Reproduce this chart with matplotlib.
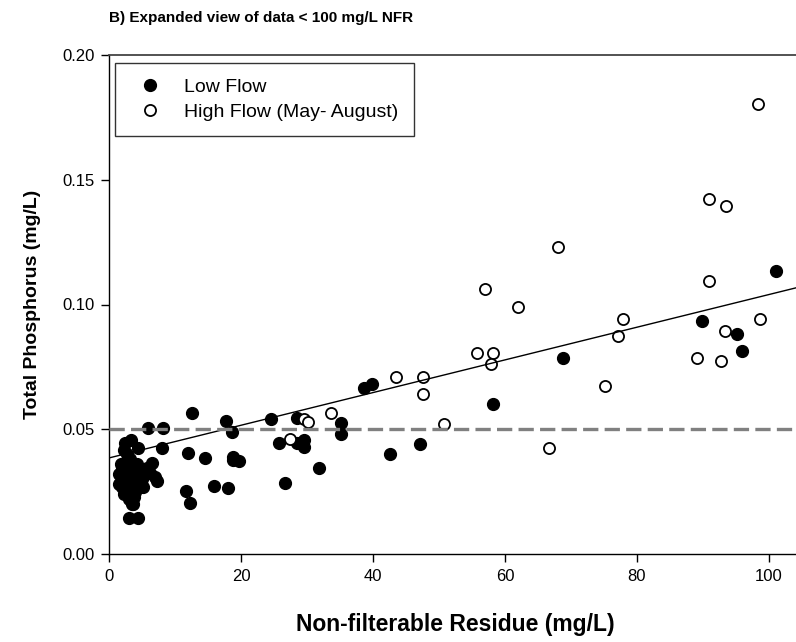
import matplotlib
matplotlib.use("Agg")
import matplotlib.pyplot as plt
import numpy as np

plt.rcParams['font.family'] = ['Liberation Sans', 'DejaVu Sans']
plt.rcParams['lines.scale_dashes'] = False

# Low flow (filled circles)
low_x = [12.6, 5.85, 8.2, 17.8, 18.7, 2.4, 3.3, 4.35, 2.2, 8.0, 11.9, 14.6, 18.8, 19.7, 18.8,
         6.5, 5.7, 6.2, 7.3, 7.0, 11.6, 12.3, 15.9, 18.0, 3.1, 4.4,
         1.5, 2.0, 2.5, 3.0, 3.5, 4.0, 3.0, 2.5, 4.0, 4.5, 5.0, 3.5, 3.0, 2.0, 1.5,
         2.8, 3.2, 4.2, 4.8, 2.2, 3.8, 5.2, 1.8, 3.6, 3.6,
         24.6, 28.5, 25.7, 28.5, 29.5, 29.5, 26.7, 31.8, 35.1, 35.1, 38.6, 39.8,
         42.6, 47.1, 58.2, 68.8, 89.9, 95.1, 95.9, 101.0]
low_y = [0.0564, 0.0504, 0.0504, 0.0535, 0.049, 0.0444, 0.0457, 0.0424, 0.0417, 0.0424, 0.0404,
         0.0384, 0.0388, 0.0374, 0.0377, 0.0364, 0.0344, 0.0324, 0.0294, 0.031, 0.0254, 0.0203,
         0.0273, 0.0263, 0.0145, 0.0145,
         0.028, 0.035, 0.037, 0.033, 0.030, 0.025, 0.025, 0.030, 0.034, 0.028, 0.030, 0.020,
         0.022, 0.027, 0.032, 0.040, 0.038, 0.036, 0.032, 0.024, 0.023, 0.027, 0.036, 0.020, 0.027,
         0.0541, 0.0544, 0.0444, 0.0446, 0.0457, 0.043, 0.0283, 0.0343, 0.0524, 0.048, 0.0664,
         0.068, 0.0401, 0.0441, 0.0601, 0.0784, 0.0934, 0.0882, 0.0812, 0.1134]

# High flow (open circles)
high_x = [29.5, 30.1, 33.6, 27.4, 43.5, 47.5, 47.5, 50.7, 55.8, 58.2, 57.9, 61.9, 57.0, 66.7,
          68.1, 75.1, 77.1, 77.9, 90.9, 89.1, 92.7, 93.3, 98.7, 98.3, 90.9, 93.5]
high_y = [0.054, 0.053, 0.0564, 0.046, 0.0711, 0.0711, 0.0641, 0.0521, 0.0804, 0.0804, 0.0762,
          0.0991, 0.1062, 0.0424, 0.1232, 0.0673, 0.0874, 0.0943, 0.1093, 0.0784, 0.0774, 0.0894,
          0.0943, 0.1804, 0.1423, 0.1395]

# Regression line
fit_intercept = 0.0385
fit_slope = 0.000655
threshold = 0.05

x_ticks = [0, 20, 40, 60, 80, 100]
y_ticks = [0.00, 0.05, 0.10, 0.15, 0.20]
x_max = 105

W, H = 796, 642
fig = plt.figure(figsize=(W / 100, H / 100), dpi=100)
ax = fig.add_axes([109 / W, (H - 554) / H, 693 / W, 499 / H])

ax.plot(low_x, low_y, 'o', color='black', markersize=8.5, markeredgewidth=1, zorder=3,
        label='Low Flow', linestyle='none')
ax.plot(high_x, high_y, 'o', markerfacecolor='white', markeredgecolor='black', markersize=8,
        markeredgewidth=1.3, zorder=4, label='High Flow (May- August)', linestyle='none')

xs = np.array([0, x_max])
ax.plot(xs, fit_intercept + fit_slope * xs, color='black', linewidth=1.0, zorder=5)
ax.axhline(threshold, color='#808080', linewidth=2.4, dashes=(11, 4.5), zorder=6)

ax.set_xlim(0, x_max)
ax.set_ylim(0, 0.20)
ax.set_xticks(x_ticks)
ax.set_yticks(y_ticks)
ax.set_yticklabels([f"{v:.2f}" for v in y_ticks])
ax.tick_params(direction='out', length=5.5, width=1, labelsize=12, colors='black', pad=5)
ax.spines['right'].set_visible(False)
ax.spines['top'].set_color('#444444')
ax.spines['top'].set_linewidth(1.3)
for s in ['left', 'bottom']:
    ax.spines[s].set_linewidth(1.0)

ax.set_xlabel('Non-filterable Residue (mg/L)', fontsize=16.5, fontweight='bold', labelpad=21)
ax.set_ylabel('Total Phosphorus (mg/L)', fontsize=14, fontweight='bold', labelpad=15)
fig.text(109 / W, 1 - 18 / H, 'B) Expanded view of data < 100 mg/L NFR', fontsize=11,
         fontweight='bold', ha='left', va='center')

leg = ax.legend(loc='upper left', bbox_to_anchor=(6 / 693, 1 - 8 / 499), fontsize=14,
                frameon=True, fancybox=False, borderaxespad=0, handlelength=2.0,
                handletextpad=0.75, borderpad=0.8, labelspacing=0.35, numpoints=1)
leg.get_frame().set_edgecolor('black')
leg.get_frame().set_linewidth(1.0)

fig.savefig('out.png', dpi=100)
